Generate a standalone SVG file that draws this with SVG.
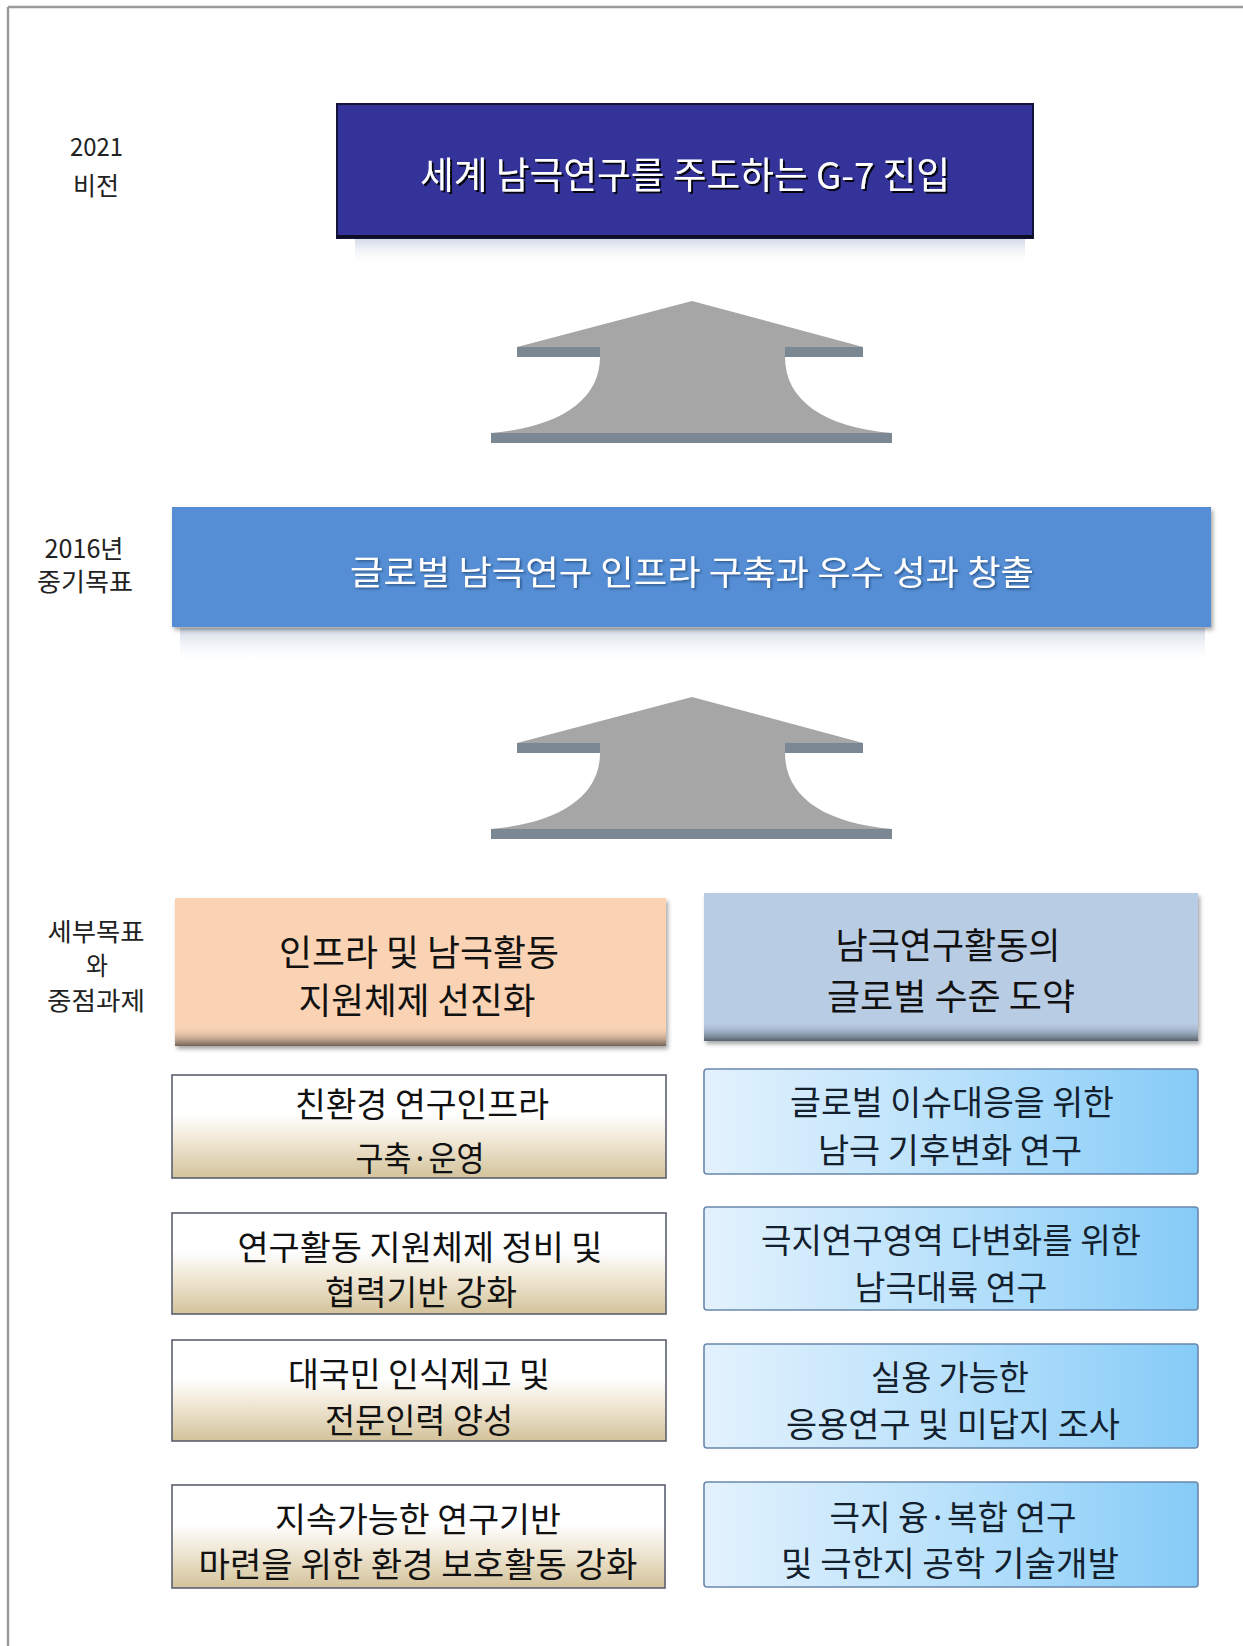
<svg xmlns="http://www.w3.org/2000/svg" width="1243" height="1646" viewBox="0 0 1243 1646">
<style>
  text { font-family: "Noto Sans CJK KR", "Noto Sans", sans-serif; text-anchor: middle; }
  .lbl { font-size: 25px; fill: #222; }
  .box { font-size: 34px; fill: #111; }
  .hdr { font-size: 36px; fill: #111; }
  .rbox { font-size: 34px; fill: #13202e; }
  .wht { fill: #ffffff; }
  .lsub { fill: url(#gTan); stroke: #5c6070; stroke-width: 1.6; }
  .rsub { fill: url(#gSky); stroke: #6a88ad; stroke-width: 1.6; }
  .arr { fill: #a6a6a6; }
  .bar { fill: #7c8794; }
</style>
<defs>
  <linearGradient id="gTan" x1="0" y1="0" x2="0" y2="1">
    <stop offset="0" stop-color="#ffffff"/>
    <stop offset="0.38" stop-color="#ffffff"/>
    <stop offset="0.65" stop-color="#efe6d3"/>
    <stop offset="1" stop-color="#d3c39b"/>
  </linearGradient>
  <linearGradient id="gSky" x1="0" y1="0" x2="1" y2="0">
    <stop offset="0" stop-color="#e3f2fd"/>
    <stop offset="0.5" stop-color="#b9e1fb"/>
    <stop offset="1" stop-color="#85cbf7"/>
  </linearGradient>
  <linearGradient id="gPeachBot" x1="0" y1="0" x2="0" y2="1">
    <stop offset="0" stop-color="#fad3b4" stop-opacity="0"/>
    <stop offset="1" stop-color="#6f6258"/>
  </linearGradient>
  <linearGradient id="gBlueBot" x1="0" y1="0" x2="0" y2="1">
    <stop offset="0" stop-color="#b8cce4" stop-opacity="0"/>
    <stop offset="1" stop-color="#56606c"/>
  </linearGradient>
  <linearGradient id="gRefl" x1="0" y1="0" x2="0" y2="1">
    <stop offset="0" stop-color="#cfd8e6"/>
    <stop offset="1" stop-color="#ffffff" stop-opacity="0"/>
  </linearGradient>
  <filter id="tshadow" x="-5%" y="-30%" width="110%" height="160%">
    <feDropShadow dx="2" dy="2" stdDeviation="0.6" flood-color="#000000" flood-opacity="0.9"/>
  </filter>
  <filter id="tshadow2" x="-5%" y="-30%" width="110%" height="160%">
    <feDropShadow dx="1.5" dy="1.5" stdDeviation="0.8" flood-color="#1b3a66" flood-opacity="0.7"/>
  </filter>
  <filter id="bshadow" x="-3%" y="-10%" width="106%" height="125%">
    <feDropShadow dx="2" dy="3" stdDeviation="2" flood-color="#000000" flood-opacity="0.35"/>
  </filter>
</defs>

<!-- frame -->
<g id="frame">
  <line x1="8" y1="7" x2="1243" y2="7" stroke="#9a9a9a" stroke-width="2.5"/>
  <line x1="8" y1="7" x2="8" y2="1646" stroke="#9a9a9a" stroke-width="2.5"/>
</g>

<!-- row labels -->
<g id="label-vision">
  <text class="lbl" x="96.5" y="156" textLength="53" lengthAdjust="spacingAndGlyphs">2021</text>
  <text class="lbl" x="96" y="195" textLength="46" lengthAdjust="spacingAndGlyphs">비전</text>
</g>
<g id="label-mid">
  <text class="lbl" x="84" y="558" textLength="79" lengthAdjust="spacingAndGlyphs">2016년</text>
  <text class="lbl" x="85" y="591" textLength="96" lengthAdjust="spacingAndGlyphs">중기목표</text>
</g>
<g id="label-sub">
  <text class="lbl" x="96" y="941" textLength="97" lengthAdjust="spacingAndGlyphs">세부목표</text>
  <text class="lbl" x="97" y="975" textLength="22" lengthAdjust="spacingAndGlyphs">와</text>
  <text class="lbl" x="96" y="1010" textLength="98" lengthAdjust="spacingAndGlyphs">중점과제</text>
</g>

<!-- vision box -->
<g id="vision">
  <rect x="355" y="238" width="670" height="28" fill="url(#gRefl)"/>
  <rect x="337" y="104" width="696" height="134" fill="#333399" stroke="#14143a" stroke-width="2"/>
  <rect x="337" y="235" width="696" height="3" fill="#0d0d26"/>
  <text class="wht" x="685" y="189" font-size="37" textLength="530" lengthAdjust="spacingAndGlyphs" filter="url(#tshadow)">세계 남극연구를 주도하는 G-7 진입</text>
</g>

<!-- mid-term goal box -->
<g id="midgoal">
  <rect x="180" y="628" width="1025" height="36" fill="url(#gRefl)"/>
  <rect x="172" y="507" width="1039" height="120" fill="#558ed5" filter="url(#bshadow)"/>
  <text class="wht" x="692" y="585" font-size="34" textLength="684" lengthAdjust="spacingAndGlyphs" filter="url(#tshadow2)">글로벌 남극연구 인프라 구축과 우수 성과 창출</text>
</g>

<!-- header boxes -->
<g id="hdr-left">
  <rect x="175" y="898" width="491" height="148" fill="#fad3b4" filter="url(#bshadow)"/>
  <rect x="175" y="1026" width="491" height="20" fill="url(#gPeachBot)"/>
  <text class="hdr" x="419" y="966" textLength="280" lengthAdjust="spacingAndGlyphs">인프라 및 남극활동</text>
  <text class="hdr" x="417" y="1014" textLength="237" lengthAdjust="spacingAndGlyphs">지원체제 선진화</text>
</g>
<g id="hdr-right">
  <rect x="704" y="893" width="494" height="148" fill="#b8cce4" filter="url(#bshadow)"/>
  <rect x="704" y="1021" width="494" height="20" fill="url(#gBlueBot)"/>
  <text class="hdr" x="948" y="959" textLength="225" lengthAdjust="spacingAndGlyphs">남극연구활동의</text>
  <text class="hdr" x="951" y="1010" textLength="248" lengthAdjust="spacingAndGlyphs">글로벌 수준 도약</text>
</g>

<!-- left column tasks -->
<g id="task-l1">
  <rect class="lsub" x="172" y="1075" width="494" height="103"/>
  <text class="box" x="422" y="1117" textLength="254" lengthAdjust="spacingAndGlyphs">친환경 연구인프라</text>
  <text class="box" x="420" y="1171" textLength="129" lengthAdjust="spacingAndGlyphs">구축·운영</text>
</g>
<g id="task-l2">
  <rect class="lsub" x="172" y="1213" width="494" height="101"/>
  <text class="box" x="420" y="1260" textLength="365" lengthAdjust="spacingAndGlyphs">연구활동 지원체제 정비 및</text>
  <text class="box" x="421" y="1305" textLength="192" lengthAdjust="spacingAndGlyphs">협력기반 강화</text>
</g>
<g id="task-l3">
  <rect class="lsub" x="172" y="1340" width="494" height="101"/>
  <text class="box" x="419" y="1387" textLength="262" lengthAdjust="spacingAndGlyphs">대국민 인식제고 및</text>
  <text class="box" x="419" y="1433" textLength="188" lengthAdjust="spacingAndGlyphs">전문인력 양성</text>
</g>
<g id="task-l4">
  <rect class="lsub" x="172" y="1485" width="493" height="103"/>
  <text class="box" x="418" y="1532" textLength="286" lengthAdjust="spacingAndGlyphs">지속가능한 연구기반</text>
  <text class="box" x="418" y="1577" textLength="439" lengthAdjust="spacingAndGlyphs">마련을 위한 환경 보호활동 강화</text>
</g>

<!-- right column tasks -->
<g id="task-r1">
  <rect class="rsub" x="704" y="1069" width="494" height="105" rx="3"/>
  <text class="rbox" x="952" y="1115" textLength="324" lengthAdjust="spacingAndGlyphs">글로벌 이슈대응을 위한</text>
  <text class="rbox" x="950" y="1163" textLength="264" lengthAdjust="spacingAndGlyphs">남극 기후변화 연구</text>
</g>
<g id="task-r2">
  <rect class="rsub" x="704" y="1207" width="494" height="103" rx="3"/>
  <text class="rbox" x="951" y="1253" textLength="380" lengthAdjust="spacingAndGlyphs">극지연구영역 다변화를 위한</text>
  <text class="rbox" x="951" y="1300" textLength="193" lengthAdjust="spacingAndGlyphs">남극대륙 연구</text>
</g>
<g id="task-r3">
  <rect class="rsub" x="704" y="1344" width="494" height="104" rx="3"/>
  <text class="rbox" x="950" y="1390" textLength="158" lengthAdjust="spacingAndGlyphs">실용 가능한</text>
  <text class="rbox" x="953" y="1437" textLength="334" lengthAdjust="spacingAndGlyphs">응용연구 및 미답지 조사</text>
</g>
<g id="task-r4">
  <rect class="rsub" x="704" y="1482" width="494" height="105" rx="3"/>
  <text class="rbox" x="953" y="1530" textLength="247" lengthAdjust="spacingAndGlyphs">극지 융·복합 연구</text>
  <text class="rbox" x="950" y="1576" textLength="338" lengthAdjust="spacingAndGlyphs">및 극한지 공학 기술개발</text>
</g>

<!-- connectors: block arrows -->
<g id="connectors">
  <g id="arrow-1">
    <rect class="bar" x="517" y="347" width="346" height="10"/>
    <rect class="bar" x="491" y="433" width="401" height="10"/>
    <path class="arr" d="M692,301 L517,347 L600,347 L600,357 C600,400 560,427 491,433 L892,433 C823,427 785,400 785,357 L785,347 L863,347 Z"/>
  </g>
  <g id="arrow-2" transform="translate(0,396)">
    <rect class="bar" x="517" y="347" width="346" height="10"/>
    <rect class="bar" x="491" y="433" width="401" height="10"/>
    <path class="arr" d="M692,301 L517,347 L600,347 L600,357 C600,400 560,427 491,433 L892,433 C823,427 785,400 785,357 L785,347 L863,347 Z"/>
  </g>
</g>
</svg>
